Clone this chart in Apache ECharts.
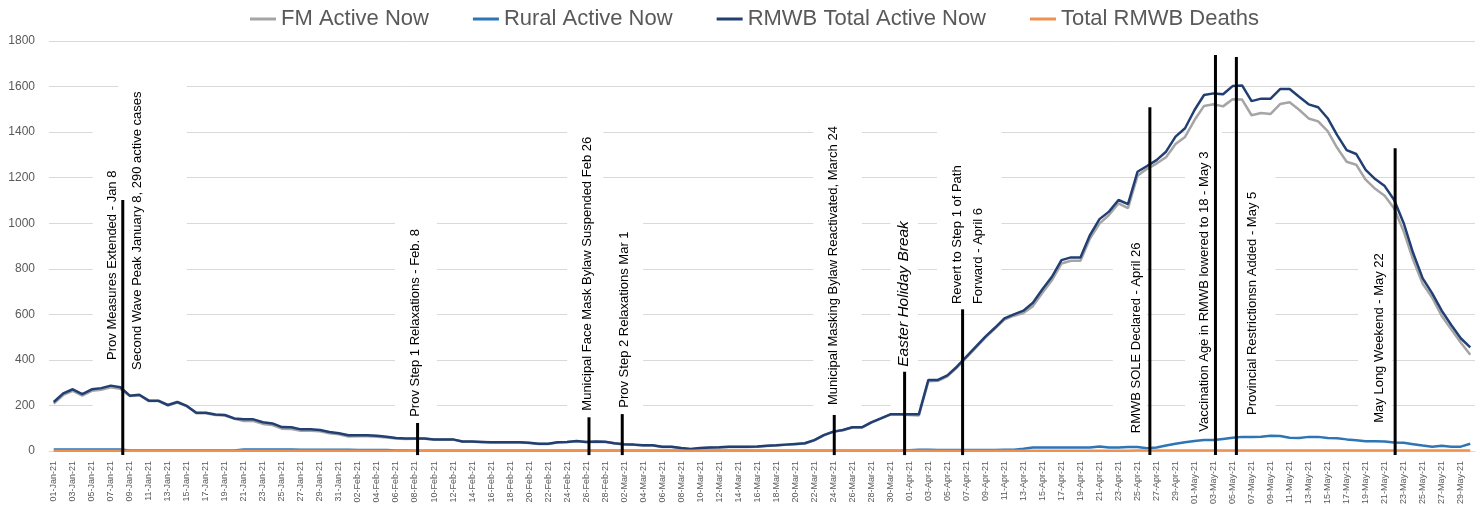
<!DOCTYPE html>
<html lang="en">
<head>
<meta charset="UTF-8">
<title>RMWB active cases</title>
<script src="https://cdn.jsdelivr.net/npm/echarts@6/dist/echarts.min.js"></script>
<style>
    html, body { margin: 0; padding: 0; background: #fff; }
    #main { width: 1479px; height: 510px; }
</style>
</head>
<body>
<div id="main"></div>
<script>
    // daily categories 01-Jan-21 .. 30-May-21
    var monthNames = ['Jan', 'Feb', 'Mar', 'Apr', 'May'];
    var monthDays = [31, 28, 31, 30, 30];
    var days = [];
    for (var m = 0; m < monthNames.length; m++) {
        for (var d = 1; d <= monthDays[m]; d++) {
            days.push((d < 10 ? '0' + d : '' + d) + '-' + monthNames[m] + '-21');
        }
    }

    var yTicks = [0, 200, 400, 600, 800, 1000, 1200, 1400, 1600, 1800];

    var totalActive = [
        215, 253, 271, 250, 271, 276, 287, 280, 243, 247, 221, 221, 202, 215, 198, 168, 168, 160, 158, 143, 139, 139, 126, 121, 105, 104, 95, 95, 92, 83, 78,
        69, 69, 69, 67, 63, 57, 55, 55, 55, 51, 51, 51, 42, 42, 40, 38, 38, 38, 38, 36, 32, 32, 38, 40, 44, 40, 42, 41,
        34, 30, 28, 25, 25, 19, 19, 13, 9, 13, 15, 16, 19, 19, 19, 20, 23, 25, 28, 31, 34, 48, 70, 85, 92, 104, 104, 126, 143, 161, 161,
        161, 161, 312, 312, 332, 370, 414, 458, 502, 541, 582, 600, 616, 651, 710, 765, 838, 850, 850, 948, 1018, 1051, 1102, 1084, 1226, 1251, 1277, 1314, 1380, 1417,
        1497, 1563, 1570, 1566, 1602, 1605, 1536, 1547, 1547, 1589, 1589, 1555, 1522, 1509, 1461, 1387, 1321, 1304, 1234, 1194, 1163, 1102, 1000, 868, 758, 692, 616, 553, 495, 455
    ];
    var fmActive = [
        208, 246, 264, 243, 264, 269, 280, 273, 241, 245, 219, 219, 200, 213, 196, 166, 166, 158, 156, 141, 132, 132, 119, 114, 98, 97, 89, 89, 87, 78, 73,
        64, 65, 65, 63, 59, 55, 53, 54, 54, 50, 50, 50, 41, 41, 39, 37, 37, 37, 37, 35, 31, 31, 37, 39, 43, 39, 41, 40,
        33, 29, 27, 24, 24, 18, 18, 12, 8, 12, 14, 15, 18, 18, 18, 19, 22, 24, 27, 30, 33, 47, 69, 84, 91, 103, 103, 125, 142, 160, 160,
        158, 156, 306, 308, 328, 366, 410, 454, 498, 537, 577, 594, 606, 636, 695, 750, 823, 835, 835, 933, 998, 1036, 1087, 1066, 1208, 1239, 1262, 1290, 1348, 1379,
        1453, 1515, 1522, 1513, 1544, 1543, 1474, 1484, 1480, 1523, 1531, 1498, 1460, 1447, 1404, 1331, 1270, 1257, 1191, 1151, 1121, 1065, 964, 838, 734, 673, 593, 534, 476, 423
    ];
    var ruralActive = [
        7, 7, 7, 7, 7, 7, 7, 7, 2, 2, 2, 2, 2, 2, 2, 2, 2, 2, 2, 2, 7, 7, 7, 7, 7, 7, 6, 6, 5, 5, 5,
        5, 4, 4, 4, 4, 2, 2, 1, 1, 1, 1, 1, 1, 1, 1, 1, 1, 1, 1, 1, 1, 1, 1, 1, 1, 1, 1, 1,
        1, 1, 1, 1, 1, 1, 1, 1, 1, 1, 1, 1, 1, 1, 1, 1, 1, 1, 1, 1, 1, 1, 1, 1, 1, 1, 1, 1, 1, 1, 1,
        3, 5, 6, 4, 4, 4, 4, 4, 4, 4, 5, 6, 10, 15, 15, 15, 15, 15, 15, 15, 20, 15, 15, 18, 18, 12, 15, 24, 32, 38,
        44, 48, 48, 53, 58, 62, 62, 63, 67, 66, 58, 57, 62, 62, 57, 56, 51, 47, 43, 43, 42, 37, 36, 30, 24, 19, 23, 19, 19, 32
    ];
    var totalDeaths = [
        1, 1, 1, 1, 1, 1, 1, 1, 1, 1, 1, 1, 1, 1, 1, 1, 1, 1, 1, 1, 1, 1, 1, 1, 1, 1, 1, 1, 1, 1, 1,
        1, 1, 1, 1, 1, 1, 1, 1, 1, 1, 1, 1, 1, 1, 1, 1, 1, 1, 1, 1, 1, 1, 1, 1, 1, 1, 1, 1,
        1, 1, 1, 1, 1, 1, 1, 1, 1, 1, 1, 1, 1, 1, 1, 1, 1, 1, 1, 1, 1, 1, 1, 1, 1, 1, 1, 1, 1, 1, 1,
        1, 1, 1, 1, 1, 1, 1, 1, 1, 1, 1, 1, 1, 1, 1, 1, 1, 1, 1, 1, 1, 1, 1, 1, 2, 2, 2, 2, 2, 2,
        2, 2, 2, 2, 2, 2, 2, 2, 2, 2, 2, 2, 2, 2, 2, 2, 2, 2, 2, 2, 2, 2, 2, 2, 2, 2, 2, 2, 2, 2
    ];

    var seriesNames = ['FM Active Now', 'Rural Active Now', 'RMWB Total Active Now', 'Total RMWB Deaths'];

    // event markers: where on the date axis (day index), and the label text
    var eventDays = [7.26, 38.27, 56.3, 59.8, 82.1, 89.5, 95.6, 115.3, 122.2, 124.4, 141.1];
    var eventTexts = [
        ['Prov Measures Extended - Jan 8', 'Second Wave Peak January 8, 290 active cases'],
        ['Prov Step 1 Relaxations - Feb. 8'],
        ['Municipal Face Mask Bylaw Suspended Feb 26'],
        ['Prov Step 2 Relaxations Mar 1'],
        ['Municipal Masking Bylaw Reactivated, March 24'],
        ['Easter Holiday Break'],
        ['Revert to Step 1 of Path\nForward - April 6'],
        ['RMWB SOLE Declared - April 26'],
        ['Vaccination Age in RMWB lowered to 18 - May 3'],
        ['Provincial Restrictionsn Added - May 5'],
        ['May Long Weekend - May 22']
    ];

    // drawing layout of the markers (line top in axis units, text offset px, text foot in axis units)
    var markerLayout = [
        { top: 1102, labels: [{ dx: -10, foot: 400 }, { dx: 15, foot: 356 }] },
        { top: 123, labels: [{ dx: -2, foot: 150 }] },
        { top: 148, labels: [{ dx: -2, foot: 177 }] },
        { top: 162, labels: [{ dx: 2, foot: 190 }] },
        { top: 158, labels: [{ dx: -1, foot: 202 }] },
        { top: 348, labels: [{ dx: -1, foot: 370, italic: true, size: 15.5 }] },
        { top: 622, labels: [{ dx: 5, foot: 645 }] },
        { top: 1509, labels: [{ dx: -13, foot: 78 }] },
        { top: 1738, labels: [{ dx: -11, foot: 85 }] },
        { top: 1730, labels: [{ dx: 16, foot: 158 }] },
        { top: 1329, labels: [{ dx: -16, foot: 124 }] }
    ];
    var lineFoot = -18;

    // white text boxes behind the notes (day range, value range) - they hide the gridlines
    var noteBoxes = [
        [4.1, 8.1, 1541, 145], [6.8, 14.0, 1716, 145], [35.9, 40.3, 1045, 145],
        [54.0, 57.8, 1475, 145], [57.8, 62.0, 1045, 145], [79.9, 85.0, 1541, 145],
        [88.0, 90.9, 1080, 145], [92.9, 99.7, 1431, 619], [111.4, 115.0, 961, 136],
        [119.0, 122.9, 1431, 136], [122.9, 128.5, 1234, 136], [137.2, 140.8, 948, 136]
    ];

    var eventData = [];
    for (var e = 0; e < eventDays.length; e++) {
        eventData.push([eventDays[e], markerLayout[e].top, e]);
    }

    var chart = echarts.init(document.getElementById('main'));

    var lineSeries = function(name, data, color, width) {
        return {
            name: name,
            type: 'line',
            data: data,
            symbol: 'none',
            color: color,
            lineStyle: { width: width, color: color },
            z: 3,
            animation: false
        };
    };

    function renderEvent(params, api) {
        var k = api.value(2);
        var lay = markerLayout[k];
        var top = api.coord([api.value(0), lay.top]);
        var foot = api.coord([api.value(0), lineFoot]);
        var children = [{
            type: 'line',
            shape: { x1: top[0], y1: top[1], x2: foot[0], y2: foot[1] },
            style: { stroke: '#000', lineWidth: 3 }
        }];
        for (var j = 0; j < lay.labels.length; j++) {
            var lb = lay.labels[j];
            var p = api.coord([api.value(0), lb.foot]);
            children.push({
                type: 'text',
                x: top[0] + lb.dx,
                y: p[1],
                rotation: Math.PI / 2,
                style: {
                    text: eventTexts[k][j],
                    fill: '#000',
                    fontSize: lb.size || 13,
                    fontStyle: lb.italic ? 'italic' : 'normal',
                    fontFamily: 'Liberation Sans Narrow, Liberation Sans, sans-serif',
                    lineHeight: 21,
                    align: 'left',
                    verticalAlign: 'middle'
                }
            });
        }
        return { type: 'group', children: children };
    }

    function renderBox(params, api) {
        var a = api.coord([api.value(0), api.value(2)]);
        var b = api.coord([api.value(1), api.value(3)]);
        return {
            type: 'rect',
            shape: { x: a[0], y: a[1], width: b[0] - a[0], height: b[1] - a[1] },
            style: { fill: '#fff' }
        };
    }

    var option = {
        animation: false,
        legend: {
            top: 3,
            left: 245,
            icon: 'rect',
            itemWidth: 26,
            itemHeight: 3,
            itemGap: 44,
            textStyle: { fontSize: 22, color: '#595959', fontFamily: 'Liberation Sans' },
            data: seriesNames
        },
        grid: {
            left: 49,
            right: 4,
            top: 41,
            bottom: 59
        },
        xAxis: [{
            type: 'category',
            data: days,
            boundaryGap: true,
            axisLine: { lineStyle: { color: '#d9d9d9' } },
            axisTick: { show: false },
            axisLabel: {
                interval: 1,
                rotate: 90,
                fontSize: 9,
                margin: 10,
                color: '#595959',
                fontFamily: 'Liberation Sans'
            }
        }, {
            // same day scale as a number line, for the notes
            type: 'value',
            min: -0.5,
            max: days.length - 0.5,
            show: false
        }],
        yAxis: {
            type: 'value',
            min: yTicks[0],
            max: yTicks[yTicks.length - 1],
            interval: yTicks[1] - yTicks[0],
            axisLine: { show: false },
            axisTick: { show: false },
            splitLine: { lineStyle: { color: '#d9d9d9', width: 1 } },
            axisLabel: {
                fontSize: 12,
                color: '#595959',
                margin: 14,
                fontFamily: 'Liberation Sans',
                formatter: function(v) { return String(v); }
            }
        },
        series: [
            {
                name: 'boxes',
                type: 'custom',
                xAxisIndex: 1,
                yAxisIndex: 0,
                data: noteBoxes,
                renderItem: renderBox,
                clip: false,
                silent: true,
                z: 1
            },
            lineSeries(seriesNames[0], fmActive, '#a5a5a5', 2.5),
            lineSeries(seriesNames[1], ruralActive, '#2e75b6', 2.5),
            lineSeries(seriesNames[2], totalActive, '#223f73', 2.5),
            lineSeries(seriesNames[3], totalDeaths, '#f0904f', 2.5),
            {
                name: 'events',
                type: 'custom',
                xAxisIndex: 1,
                yAxisIndex: 0,
                data: eventData,
                renderItem: renderEvent,
                clip: false,
                silent: true,
                z: 10
            }
        ]
    };
    chart.setOption(option);
</script>
</body>
</html>
